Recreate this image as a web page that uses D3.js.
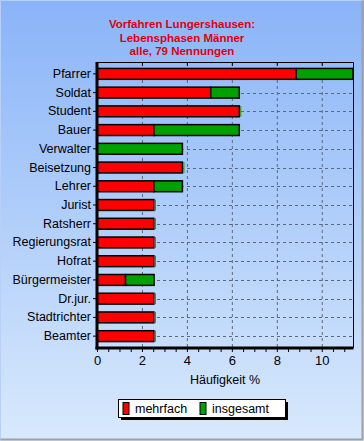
<!DOCTYPE html>
<html><head><meta charset="utf-8">
<script src="https://cdn.jsdelivr.net/npm/d3@7"></script>
<style>html,body{margin:0;padding:0;overflow:hidden;}svg{display:block;}</style>
</head><body>
<script>
const titleLines = ["Vorfahren Lungershausen:", "Lebensphasen Männer", "alle, 79 Nennungen"];
const categories = ["Pfarrer","Soldat","Student","Bauer","Verwalter","Beisetzung","Lehrer","Jurist","Ratsherr","Regierungsrat","Hofrat","Bürgermeister","Dr.jur.","Stadtrichter","Beamter"];
// percent values (of 79 mentions)
const mehrfach  = [8.86, 5.06, 6.33, 2.53, 0, 3.80, 2.53, 2.53, 2.53, 2.53, 2.53, 1.27, 2.53, 2.53, 2.53];
const insgesamt = [2.53, 1.27, 0, 3.80, 3.80, 0, 1.27, 0, 0, 0, 0, 1.27, 0, 0, 0];
const xTicks = [0, 2, 4, 6, 8, 10];
const xMax = 11.39;
const seriesNames = ["mehrfach", "insgesamt"];
const seriesColors = ["#ff0000", "#00a000"];

(function(){
const W = 364, H = 441;
const svg = d3.select("body").append("svg").attr("width", W).attr("height", H)
  .style("font-family", "'Liberation Sans', Arial, sans-serif");

const defs = svg.append("defs");
const grad = defs.append("linearGradient").attr("id","bg").attr("x1",0).attr("y1",0).attr("x2",0).attr("y2",1);
grad.append("stop").attr("offset","0%").attr("stop-color","#8ab4f8");
grad.append("stop").attr("offset","100%").attr("stop-color","#d8e9fc");
svg.append("rect").attr("width",W).attr("height",H).attr("fill","url(#bg)");
// frame
svg.append("path").attr("d",`M0.5,${H-0.5} V0.5 H${W-0.5}`).attr("fill","none").attr("stroke","#b8d0f8");
svg.append("path").attr("d",`M0.5,${H-1.5} H${W-1.5} V0.5`).attr("fill","none").attr("stroke","#a0a0a0").attr("stroke-width",2);

// title
const title = svg.append("text").attr("text-anchor","middle").attr("fill","#e00010")
  .style("font-weight","bold").style("font-size","11.5px");
titleLines.forEach((t,i)=> title.append("tspan").attr("x", 182).attr("y", 28 + i*13.5).text(t));

const pL = 97, pR = 353, pT = 62, pB = 348;
const x = d3.scaleLinear().domain([0, xMax]).range([pL, pR]);
const y = d3.scaleBand().domain(categories).range([64.5, 345.5]).paddingInner(0.42).paddingOuter(0.21);

// grid verticals
const g = svg.append("g");
g.selectAll("line.v").data(xTicks.filter(d=>d>0)).join("line")
  .attr("x1", d=>x(d)+0.5).attr("x2", d=>x(d)+0.5).attr("y1", pT).attr("y2", pB)
  .attr("stroke","#606878").attr("stroke-dasharray","3,3");
// grid horizontals
g.selectAll("line.h").data(categories).join("line")
  .attr("x1", pL).attr("x2", pR)
  .attr("y1", d=>Math.round(y(d)+y.bandwidth()/2)+0.5).attr("y2", d=>Math.round(y(d)+y.bandwidth()/2)+0.5)
  .attr("stroke","#606878").attr("stroke-dasharray","3,3");

// bars
const stacked = categories.map((c,i)=>({cat:c, m:mehrfach[i], s:insgesamt[i]}));
const bars = svg.append("g");
stacked.forEach(d=>{
  const y0 = y(d.cat), h = y.bandwidth();
  const segs = [[0, d.m, seriesColors[0]], [d.m, d.m + d.s, seriesColors[1]]];
  segs.forEach(([a,b,c])=>{
    if (b - a <= 0) return;
    bars.append("rect").attr("x", x(a)).attr("y", y0).attr("width", x(b)-x(a)).attr("height", h)
      .attr("fill", c).attr("stroke","#000").attr("stroke-width",1.5);
  });
  if (d.s === 0) {
    bars.append("line").attr("x1", x(d.m)+1.5).attr("x2", x(d.m)+1.5).attr("y1", y0).attr("y2", y0+h)
      .attr("stroke", seriesColors[1]).attr("stroke-width",1);
  }
});

// plot frame (top/right thin)
svg.append("path").attr("d",`M${pL},${pT+0.5} H${pR+0.5} V${pB}`).attr("fill","none").attr("stroke","#000");
// top inward ticks
svg.selectAll("line.tt").data(xTicks.filter(d=>d>0)).join("line")
  .attr("x1", d=>x(d)+0.5).attr("x2", d=>x(d)+0.5).attr("y1", pT).attr("y2", pT+4).attr("stroke","#000");

// x axis
const xAxis = d3.axisBottom(x).tickValues(xTicks).tickSize(0).tickPadding(8).tickFormat(d3.format("d"));
const xa = svg.append("g").attr("transform", `translate(0,${pB})`).call(xAxis);
xa.select(".domain").remove();
xa.selectAll("text").style("font-size","13px").attr("fill","#000").style("font-family","'Liberation Sans', Arial, sans-serif");
// minor ticks
const minor = d3.range(0, xMax, 0.5);
svg.selectAll("line.mt").data(minor).join("line")
  .attr("x1", d=>x(d)+0.5).attr("x2", d=>x(d)+0.5).attr("y1", pB).attr("y2", pB+4).attr("stroke","#000");
svg.append("line").attr("x1", pL-1.5).attr("x2", pR+0.5).attr("y1", pB).attr("y2", pB)
  .attr("stroke","#000").attr("stroke-width",3);

// y axis
const yAxis = d3.axisLeft(y).tickSize(4).tickPadding(2);
const ya = svg.append("g").attr("transform", `translate(${pL},0)`).call(yAxis);
ya.select(".domain").remove();
ya.selectAll("text").style("font-size","12.5px").attr("fill","#000").style("font-family","'Liberation Sans', Arial, sans-serif");
svg.append("line").attr("x1", pL).attr("x2", pL).attr("y1", pT).attr("y2", pB+1.5)
  .attr("stroke","#000").attr("stroke-width",3);

// x title
svg.append("text").attr("x", 225).attr("y", 384).attr("text-anchor","middle")
  .style("font-size","12.5px").text("Häufigkeit %");

// legend
const lg = svg.append("g");
lg.append("rect").attr("x", 121).attr("y", 402).attr("width", 167).attr("height", 18).attr("fill","#000");
lg.append("rect").attr("x", 118.5).attr("y", 399.5).attr("width", 167).attr("height", 18).attr("fill","#fff").attr("stroke","#000");
const lx = [123, 200];
seriesNames.forEach((n,i)=>{
  lg.append("rect").attr("x", lx[i]).attr("y", 402.5).attr("width", 6).attr("height", 12)
    .attr("fill", seriesColors[i]).attr("stroke","#000");
  lg.append("text").attr("x", lx[i]+12).attr("y", 413).style("font-size","12.5px").text(n);
});
})();
</script>
</body></html>
